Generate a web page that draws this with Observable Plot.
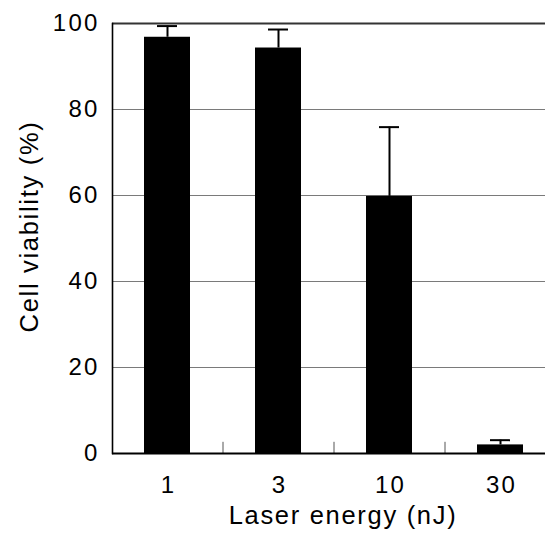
<!DOCTYPE html>
<html><head><meta charset="utf-8">
<script src="https://cdn.jsdelivr.net/npm/d3@7"></script>
<script src="https://cdn.jsdelivr.net/npm/@observablehq/plot@0.6"></script>
<style>body{margin:0;background:#fff;} svg{display:block}
g[aria-label="y-axis tick label"] text, g[aria-label="x-axis tick label"] text { letter-spacing: 2.2px; }
</style>
</head><body><div id="chart"></div>
<script>
const energies = ["1", "3", "10", "30"];
const means = [96.8, 94.3, 59.8, 2.0];
const errors = [2.6, 4.3, 16.1, 1.1];
const yTicks = [0, 20, 40, 60, 80, 100];
const gridTicks = [20, 40, 60, 80];
const xTitle = "Laser energy (nJ)";
const yTitle = "Cell viability (%)";

const data = energies.map((e, i) => ({energy: e, mean: means[i], top: means[i] + errors[i]}));
const W = 545, H = 541, mL = 112, mT = 23, mB = 88;
const xRange = [mL, mL + 4 * 111];
const step = (xRange[1] - xRange[0]) / energies.length;

const chart = Plot.plot({
  width: W, height: H,
  marginLeft: mL, marginRight: 0, marginTop: mT, marginBottom: mB,
  style: {fontFamily: "'Liberation Sans', Arial, sans-serif", fontSize: "24px", color: "#000", background: "#fff"},
  x: {domain: energies, range: xRange, paddingInner: 0.585, paddingOuter: 0.2925},
  y: {domain: [0, 100]},
  marks: [
    Plot.gridY(gridTicks, {stroke: "#7a7a7a", strokeOpacity: 1, strokeWidth: 1.2}),
    Plot.ruleY([100], {stroke: "#333", strokeWidth: 2}),
    Plot.barY(data, {x: "energy", y: "mean", fill: "#000"}),
    Plot.ruleX(data, {x: "energy", y1: "mean", y2: "top", stroke: "#000", strokeWidth: 2}),
    Plot.tickY(data, {x: "energy", y: "top", stroke: "#000", strokeWidth: 2, insetLeft: 13, insetRight: 13}),
    Plot.ruleX(energies.slice(0, -1), {x: d => d, dx: step / 2, y1: 0, y2: 2.6, stroke: "#555", strokeWidth: 1}),
    Plot.ruleY([0], {stroke: "#000", strokeWidth: 2}),
    Plot.frame({anchor: "left", stroke: "#000", strokeWidth: 1.6}),
    Plot.axisY(yTicks, {tickSize: 0, tickPadding: 13, label: null, fontSize: 24}),
    Plot.axisX({tickSize: 0, tickPadding: 22, dx: 1, label: null, fontSize: 24}),
    Plot.text([yTitle], {frameAnchor: "left", textAnchor: "middle", rotate: -90, dx: -83, dy: -12, fontSize: 25.5, fill: "#000"}),
    Plot.text([xTitle], {frameAnchor: "bottom", dx: 14, dy: 70, fontSize: 25.5, fill: "#000"})
  ]
});
d3.select(chart).selectAll("text")
  .filter(function() { return this.textContent === xTitle || this.textContent === yTitle; })
  .style("letter-spacing", "1.7px");
document.getElementById("chart").appendChild(chart);
</script></body></html>
